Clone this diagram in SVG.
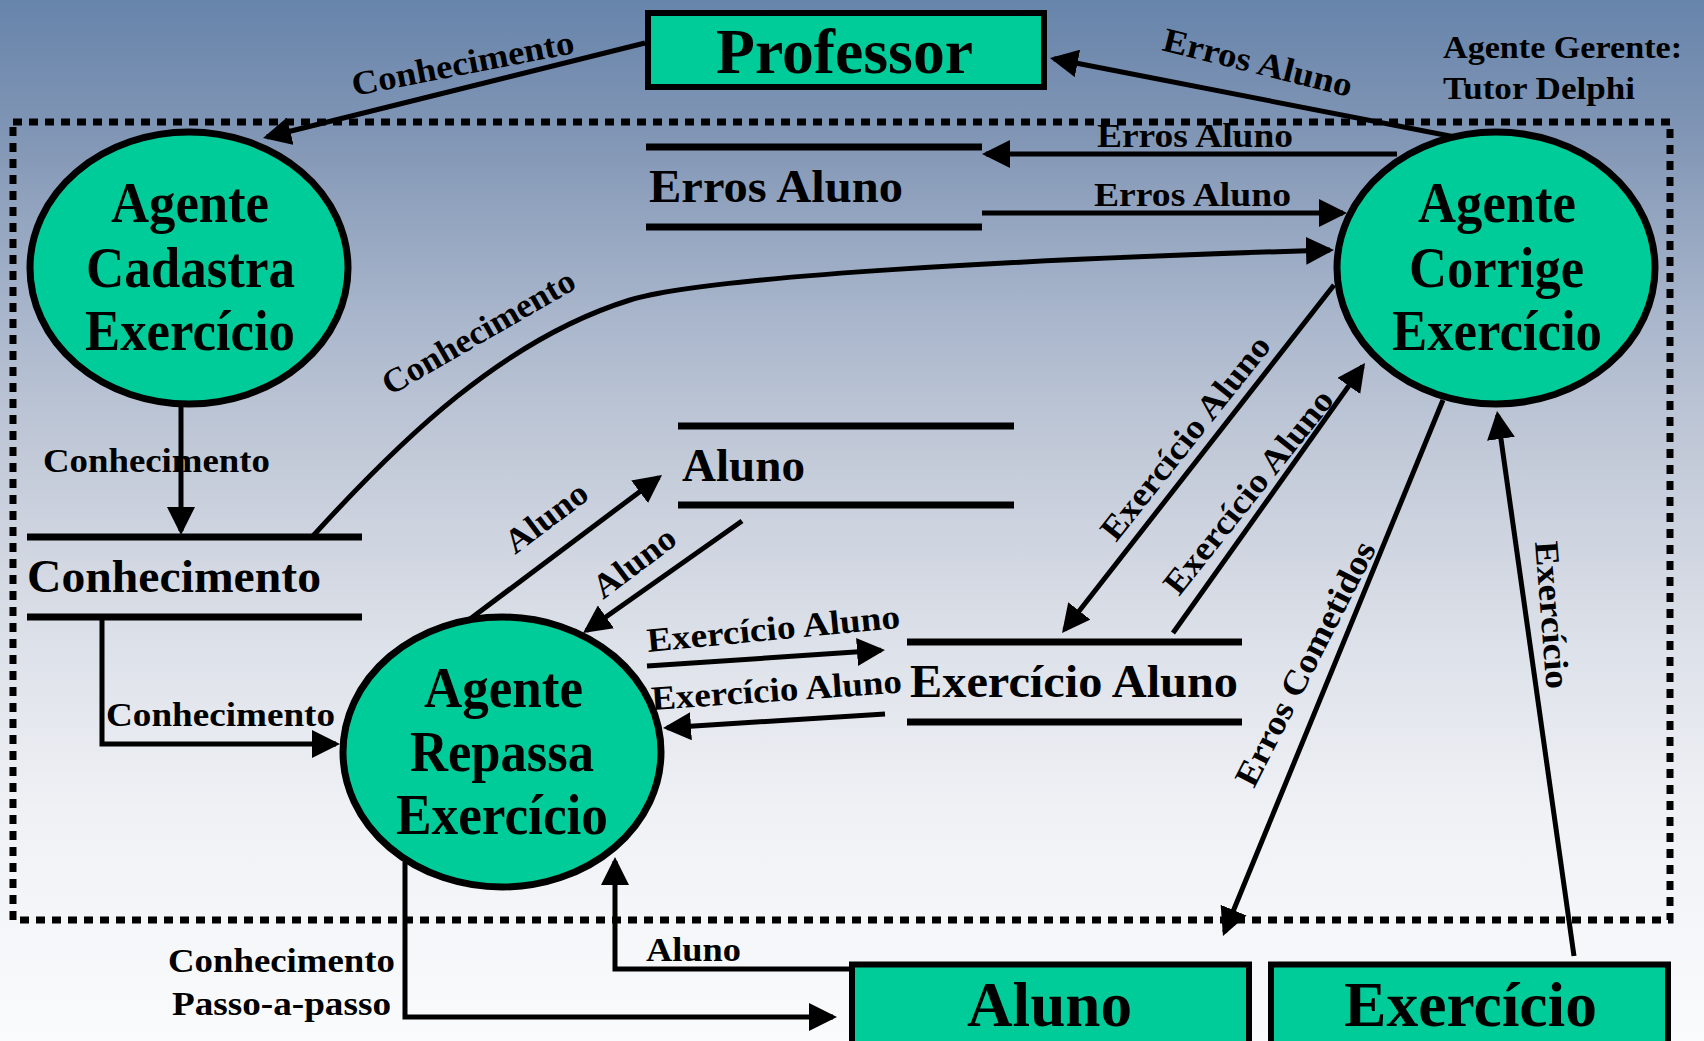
<svg xmlns="http://www.w3.org/2000/svg" width="1704" height="1041" viewBox="0 0 1704 1041">
  <defs>
    <linearGradient id="bg" x1="0" y1="0" x2="0" y2="1">
      <stop offset="0" stop-color="#6784ab"/>
      <stop offset="0.13" stop-color="#8196b5"/>
      <stop offset="0.3" stop-color="#a8b5cb"/>
      <stop offset="0.4" stop-color="#bcc5d5"/>
      <stop offset="0.5" stop-color="#ccd2de"/>
      <stop offset="0.62" stop-color="#dde1e9"/>
      <stop offset="0.78" stop-color="#eff1f5"/>
      <stop offset="1" stop-color="#fafbfc"/>
    </linearGradient>
    <marker id="arrow" markerUnits="userSpaceOnUse" markerWidth="28" markerHeight="28" refX="24" refY="14" orient="auto">
      <path d="M0,0 L28,14 L0,28 Z" fill="#000"/>
    </marker>
    <style>
      text { font-family: "Liberation Serif", "Times New Roman", serif; font-weight: bold; fill: #000; }
      .node { font-size: 56px; }
      .ext { font-size: 63px; }
      .store { font-size: 46px; }
      .lbl { font-size: 34px; }
      .note { font-size: 32px; }
      .proc { fill: #00cc99; stroke: #000; stroke-width: 7; }
      .box { fill: #00cc99; stroke: #000; stroke-width: 6; }
      .bar { stroke: #000; stroke-width: 7; fill: none; }
      .flow { stroke: #000; stroke-width: 5; fill: none; marker-end: url(#arrow); }
      .plain { stroke: #000; stroke-width: 5; fill: none; }
      .boundary { fill: none; stroke: #000; stroke-width: 7; stroke-dasharray: 9 7; }
    </style>
  </defs>

  <!-- background -->
  <rect x="0" y="0" width="1704" height="1041" fill="url(#bg)"/>

  <!-- system boundary of the managing agent -->
  <g id="boundary">
    <rect class="boundary" x="13" y="122" width="1657" height="798"/>
    <text class="note" x="1443" y="58" textLength="239" lengthAdjust="spacingAndGlyphs">Agente Gerente:</text>
    <text class="note" x="1443" y="99" textLength="192" lengthAdjust="spacingAndGlyphs">Tutor Delphi</text>
  </g>

  <!-- data flows -->
  <g id="connectors">
    <line class="flow" x1="645" y1="43" x2="266.9" y2="137"/>
    <line class="flow" x1="1455" y1="137" x2="1053.9" y2="58.8"/>
    <line class="flow" x1="1397" y1="154" x2="986" y2="154"/>
    <line class="flow" x1="982" y1="213" x2="1343" y2="213"/>
    <path class="flow" d="M312,537 C401,439 504,339 630,300 C706,276 1030,259 1330,250"/>
    <line class="flow" x1="181" y1="405" x2="181" y2="531"/>
    <polyline class="flow" points="102,617 102,744 336,744"/>
    <line class="flow" x1="470" y1="619" x2="658.8" y2="477.4"/>
    <line class="flow" x1="742" y1="521" x2="586.3" y2="630.7"/>
    <line class="flow" x1="647" y1="666" x2="881" y2="650.3"/>
    <line class="flow" x1="885" y1="714" x2="667" y2="727.7"/>
    <line class="flow" x1="1334" y1="285" x2="1064.5" y2="629.8"/>
    <line class="flow" x1="1173" y1="633" x2="1362.7" y2="366.3"/>
    <line class="flow" x1="1443" y1="400" x2="1224.5" y2="932.3"/>
    <line class="flow" x1="1574" y1="956" x2="1497.6" y2="415"/>
    <polyline class="flow" points="849,969 615,969 615,861"/>
    <polyline class="flow" points="405,862 405,1017 833,1017"/>
  </g>

  <!-- flow labels -->
  <g id="connector-labels">
    <text class="lbl" transform="translate(354,96) rotate(-11)" textLength="226" lengthAdjust="spacingAndGlyphs">Conhecimento</text>
    <text class="lbl" transform="translate(1161,50) rotate(14)" textLength="194" lengthAdjust="spacingAndGlyphs">Erros Aluno</text>
    <text class="lbl" x="1097" y="147" textLength="196" lengthAdjust="spacingAndGlyphs">Erros Aluno</text>
    <text class="lbl" x="1094" y="206" textLength="197" lengthAdjust="spacingAndGlyphs">Erros Aluno</text>
    <text class="lbl" transform="translate(390,396) rotate(-30)" textLength="217" lengthAdjust="spacingAndGlyphs">Conhecimento</text>
    <text class="lbl" x="43" y="472" textLength="227" lengthAdjust="spacingAndGlyphs">Conhecimento</text>
    <text class="lbl" x="106" y="726" textLength="229" lengthAdjust="spacingAndGlyphs">Conhecimento</text>
    <text class="lbl" transform="translate(515,555) rotate(-37)" textLength="95" lengthAdjust="spacingAndGlyphs">Aluno</text>
    <text class="lbl" transform="translate(603,600) rotate(-37)" textLength="95" lengthAdjust="spacingAndGlyphs">Aluno</text>
    <text class="lbl" transform="translate(648,652) rotate(-5.5)" textLength="254" lengthAdjust="spacingAndGlyphs">Exercício Aluno</text>
    <text class="lbl" transform="translate(652,710) rotate(-4)" textLength="251" lengthAdjust="spacingAndGlyphs">Exercício Aluno</text>
    <text class="lbl" transform="translate(1116,543) rotate(-51.5)" textLength="251" lengthAdjust="spacingAndGlyphs">Exercício Aluno</text>
    <text class="lbl" transform="translate(1179,597) rotate(-51.5)" textLength="251" lengthAdjust="spacingAndGlyphs">Exercício Aluno</text>
    <text class="lbl" transform="translate(1254,789) rotate(-63)" textLength="270" lengthAdjust="spacingAndGlyphs">Erros Cometidos</text>
    <text class="lbl" transform="translate(1535,542) rotate(85.5)" textLength="148" lengthAdjust="spacingAndGlyphs">Exercício</text>
    <text class="lbl" x="646" y="961" textLength="95" lengthAdjust="spacingAndGlyphs">Aluno</text>
    <text class="lbl" x="168" y="972" textLength="227" lengthAdjust="spacingAndGlyphs">Conhecimento</text>
    <text class="lbl" x="172" y="1015" textLength="219" lengthAdjust="spacingAndGlyphs">Passo-a-passo</text>
  </g>

  <!-- external entities -->
  <g id="professor">
    <rect class="box" x="648" y="13" width="396" height="74"/>
    <text class="ext" x="716" y="73" textLength="257" lengthAdjust="spacingAndGlyphs">Professor</text>
  </g>
  <g id="aluno">
    <rect class="box" x="852" y="964.5" width="397" height="100"/>
    <text class="ext" x="967" y="1026" textLength="165" lengthAdjust="spacingAndGlyphs">Aluno</text>
  </g>
  <g id="exercicio">
    <rect class="box" x="1271" y="964.5" width="397" height="100"/>
    <text class="ext" x="1344" y="1026" textLength="253" lengthAdjust="spacingAndGlyphs">Exercício</text>
  </g>

  <!-- processes -->
  <g id="agente-cadastra">
    <ellipse class="proc" cx="189" cy="268" rx="159" ry="136"/>
    <text class="node" x="111" y="222" textLength="158" lengthAdjust="spacingAndGlyphs">Agente</text>
    <text class="node" x="86" y="287" textLength="209" lengthAdjust="spacingAndGlyphs">Cadastra</text>
    <text class="node" x="85" y="350" textLength="210" lengthAdjust="spacingAndGlyphs">Exercício</text>
  </g>
  <g id="agente-corrige">
    <ellipse class="proc" cx="1496" cy="268" rx="159" ry="136"/>
    <text class="node" x="1418" y="222" textLength="158" lengthAdjust="spacingAndGlyphs">Agente</text>
    <text class="node" x="1409" y="287" textLength="175" lengthAdjust="spacingAndGlyphs">Corrige</text>
    <text class="node" x="1392" y="350" textLength="210" lengthAdjust="spacingAndGlyphs">Exercício</text>
  </g>
  <g id="agente-repassa">
    <ellipse class="proc" cx="502" cy="752" rx="159" ry="135"/>
    <text class="node" x="424" y="707" textLength="159" lengthAdjust="spacingAndGlyphs">Agente</text>
    <text class="node" x="410" y="771" textLength="184" lengthAdjust="spacingAndGlyphs">Repassa</text>
    <text class="node" x="396" y="834" textLength="212" lengthAdjust="spacingAndGlyphs">Exercício</text>
  </g>

  <!-- data stores -->
  <g id="store-erros-aluno">
    <line class="bar" x1="646" y1="147" x2="982" y2="147"/>
    <line class="bar" x1="646" y1="227" x2="982" y2="227"/>
    <text class="store" x="649" y="202" textLength="254" lengthAdjust="spacingAndGlyphs">Erros Aluno</text>
  </g>
  <g id="store-aluno">
    <line class="bar" x1="678" y1="426" x2="1014" y2="426"/>
    <line class="bar" x1="678" y1="505" x2="1014" y2="505"/>
    <text class="store" x="682" y="481" textLength="123" lengthAdjust="spacingAndGlyphs">Aluno</text>
  </g>
  <g id="store-conhecimento">
    <line class="bar" x1="27" y1="537" x2="362" y2="537"/>
    <line class="bar" x1="27" y1="617" x2="362" y2="617"/>
    <text class="store" x="27" y="592" textLength="294" lengthAdjust="spacingAndGlyphs">Conhecimento</text>
  </g>
  <g id="store-exercicio-aluno">
    <line class="bar" x1="907" y1="642" x2="1242" y2="642"/>
    <line class="bar" x1="907" y1="722" x2="1242" y2="722"/>
    <text class="store" x="910" y="697" textLength="328" lengthAdjust="spacingAndGlyphs">Exercício Aluno</text>
  </g>
</svg>
